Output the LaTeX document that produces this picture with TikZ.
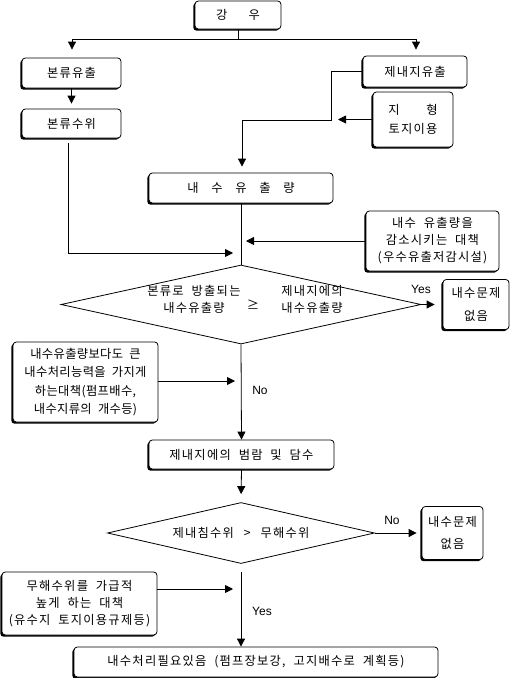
\documentclass[tikz,border=0pt]{standalone}
\usepackage{fontspec}
\setmainfont{Noto Sans CJK KR}[WordSpace=2, LetterSpace=10]
\newfontfamily\krtight{Noto Sans CJK KR}[WordSpace=2, LetterSpace=3]
\newfontfamily\latinlab{Liberation Sans}
\usetikzlibrary{shapes.geometric,shadows,arrows.meta}
\begin{document}
\begin{tikzpicture}[x=0.75pt,y=-0.75pt,
  font=\fontsize{9.2pt}{12.75pt}\selectfont,
  box/.style={draw, fill=white, rounded corners=2.5pt, line width=0.6pt, inner sep=0pt, align=center,
    drop shadow={shadow xshift=-1.3pt, shadow yshift=-1.3pt, fill=black, opacity=1}},
  sz/.style 2 args={minimum width=#1*0.75pt, minimum height=#2*0.75pt},
  dia/.style={draw, diamond, line width=0.6pt, inner sep=0pt},
  arr/.style={-{Triangle[width=6pt,length=6pt]}, line width=0.6pt},
  ln/.style={line width=0.6pt},
  lab/.style={inner sep=0pt, align=center},
  yn/.style={inner sep=0pt, font=\fontsize{9pt}{11pt}\latinlab}]
\useasboundingbox (0,0) rectangle (510,678);
% nodes
\node[box, sz={86}{28}] (rain) at (238,15) {강\hspace{16pt}우};
\node[box, sz={99}{30}] (bonout) at (71.5,73) {본류유출};
\node[box, sz={99}{29}] (bonlev) at (71.5,123.5) {본류수위};
\node[box, sz={104}{31}] (jeout) at (415,71.5) {제내지유출};
\node[box, sz={80}{55}] (terrain) at (413,119.5) {지\hspace{20pt}형\\[1pt]토지이용};
\node[box, sz={184}{30}] (inflow) at (241,188) {내\hspace{9.5pt}수\hspace{9.5pt}유\hspace{9.5pt}출\hspace{9.5pt}량};
\node[box, sz={133}{60}] (reduce) at (432.5,241) {내수 유출량을\\감소시키는 대책\\(우수유출저감시설)};
\node[dia, minimum width=360*0.75pt, minimum height=79*0.75pt] (d1) at (241,304.5) {};
\node[lab] (d1a) at (194,299) {본류로 방출되는\\내수유출량};
\node[lab] (d1b) at (253,305) {≥};
\node[lab] (d1c) at (312,299) {제내지에의\\내수유출량};
\node[box, sz={66}{50}] (np1) at (476,304.5) {내수문제\\[4pt]없음};
\node[box, sz={145}{80}, font=\fontsize{9.2pt}{12.75pt}\krtight] (cap) at (85.5,382) {내수유출량보다도 큰\\[1pt]내수처리능력을 가지게\\[1pt]하는대책(펌프배수,\\[1pt]내수지류의 개수등)};
\node[box, sz={185}{29}] (flood) at (241.5,454.5) {제내지에의 범람 및 담수};
\node[dia, minimum width=267*0.75pt, minimum height=61*0.75pt] (d2) at (241,533) {};
\node[lab] (d2t) at (241,533) {제내침수위 \,>\, 무해수위};
\node[box, sz={61}{53}] (np2) at (452.5,533) {내수문제\\[4pt]없음};
\node[box, sz={155}{63}] (harm) at (79.5,603.5) {무해수위를 가급적\\높게 하는 대책\\(유수지 토지이용규제등)};
\node[box, sz={364}{30}] (final) at (256,662) {내수처리필요있음 (펌프장보강, 고지배수로 계획등)};
% labels
\node[yn] (yes1) at (421,289) {Yes};
\node[yn] (no1) at (260,390) {No};
\node[yn] (no2) at (392,520) {No};
\node[yn] (yes2) at (262,611) {Yes};
% coordinates
\coordinate (j0) at (238,39);
\coordinate (jl) at (72,39);
\coordinate (jr) at (416,39);
\coordinate (b1) at (68,143);
\coordinate (b2) at (68,253);
\coordinate (m1) at (241,253);
\coordinate (e2) at (331,120);
\coordinate (e3) at (242,120);
\coordinate (t1) at (338,119.5);
\coordinate (r1) at (246,241);
\coordinate (k1) at (235,381);
\coordinate (y0) at (241,572);
\coordinate (h1) at (233,589);
% connectors
\draw[ln] (rain.south) -- (j0);
\draw[ln] (jl) -- (jr);
\draw[arr, shorten >=6pt] (jl) -- (jl |- bonout.north);
\draw[arr, shorten >=4.5pt] (jr) -- (jr |- jeout.north);
\draw[arr, shorten >=3.75pt] (bonout.south) -- (bonlev.north);
\draw[arr, shorten >=6pt] (b1) -- (b2) -- (m1);
\draw[arr, shorten >=4.5pt] (jeout.west) -| (e2) -- (e3) -- (e3 |- inflow.north);
\draw[arr] (terrain.west) -- (t1);
\draw[ln] (inflow.south) -- (d1.north);
\draw[arr] (reduce.west) -- (r1);
\draw[arr, shorten >=6pt] (d1.east) -- (np1.west);
\draw[arr] (d1.south) -- (flood.north);
\draw[arr] (cap.east |- k1) -- (k1);
\draw[arr, shorten >=6pt] (flood.south) -- (d2.north);
\draw[arr, shorten >=3.75pt] (d2.east) -- (np2.west);
\draw[arr] (y0) -- (y0 |- final.north);
\draw[arr] (harm.east |- h1) -- (h1);
\end{tikzpicture}
\end{document}
